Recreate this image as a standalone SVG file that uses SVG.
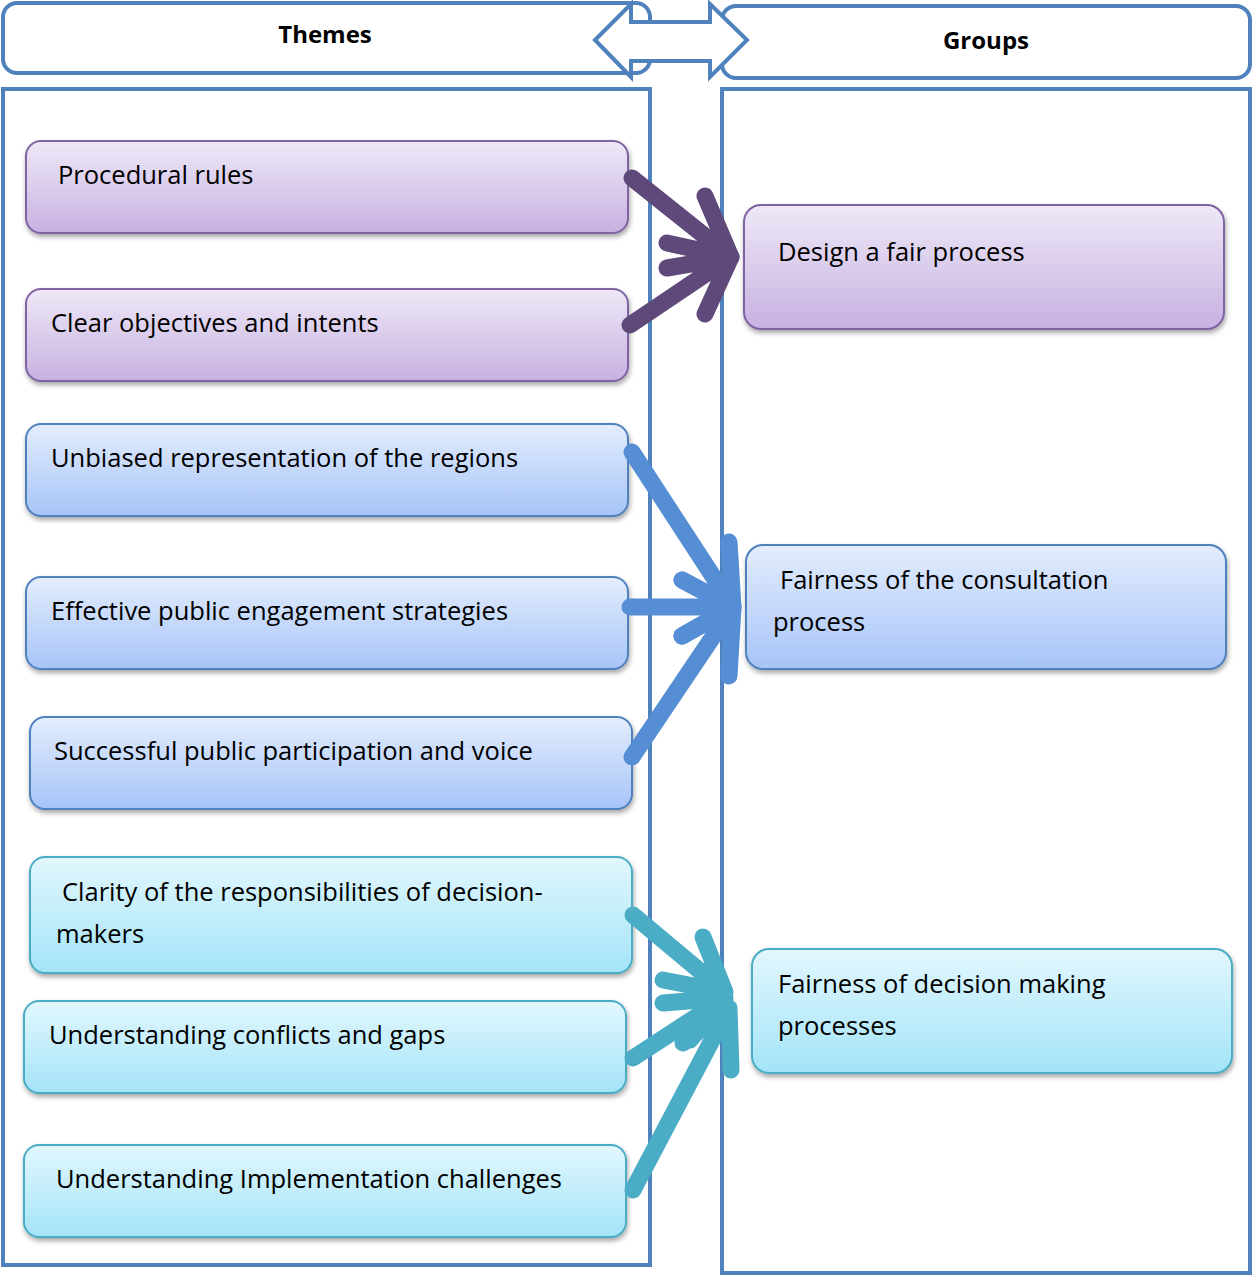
<svg xmlns="http://www.w3.org/2000/svg" width="1253" height="1276" viewBox="0 0 1253 1276">
<defs>
<linearGradient id="gP" x1="0" y1="0" x2="0" y2="1"><stop offset="0" stop-color="#EEE8F7"/><stop offset="1" stop-color="#C7B1E1"/></linearGradient>
<linearGradient id="gB" x1="0" y1="0" x2="0" y2="1"><stop offset="0" stop-color="#E3EDFD"/><stop offset="1" stop-color="#A7C4F8"/></linearGradient>
<linearGradient id="gC" x1="0" y1="0" x2="0" y2="1"><stop offset="0" stop-color="#E2F7FD"/><stop offset="1" stop-color="#A3E4F8"/></linearGradient>
<filter id="sh" x="-5%" y="-10%" width="110%" height="130%"><feDropShadow dx="1" dy="3" stdDeviation="2.5" flood-color="#000" flood-opacity="0.35"/></filter>
</defs>
<style>
.frame{fill:#fff;stroke:#4F81BD;stroke-width:4}
.hdr{font-family:"Open Sans","Liberation Sans",sans-serif;font-weight:bold;font-size:24px;fill:#000;text-anchor:middle}
.t{font-family:"Open Sans","Liberation Sans",sans-serif;font-size:25.5px;fill:#000}
.p{fill:url(#gP);stroke:#8064A2;stroke-width:2;filter:url(#sh)}
.b{fill:url(#gB);stroke:#4F81BD;stroke-width:2;filter:url(#sh)}
.c{fill:url(#gC);stroke:#4BACC6;stroke-width:2;filter:url(#sh)}
.ap{fill:none;stroke:#5F497A;stroke-width:17;stroke-linecap:round;stroke-linejoin:round}
.ab{fill:none;stroke:#558ED5;stroke-width:17;stroke-linecap:round;stroke-linejoin:round}
.ac{fill:none;stroke:#4BACC6;stroke-width:17;stroke-linecap:round;stroke-linejoin:round}
</style>
<g id="themes-header"><rect class="frame" x="3" y="3" width="647" height="70" rx="14"/><text class="hdr" x="325" y="43">Themes</text></g>
<g id="groups-header"><rect class="frame" x="722" y="6" width="528" height="72" rx="14"/><text class="hdr" x="986" y="49">Groups</text></g>
<g id="double-arrow"><path class="frame" d="M595,40 L631,4 L631,22 L710,22 L710,4 L747,40 L710,77 L710,61 L631,61 L631,77 Z"/></g>
<g id="themes-column"><rect class="frame" x="3" y="89" width="647" height="1176"/></g>
<g id="groups-column"><rect class="frame" x="722" y="89" width="528" height="1184"/></g>

<g id="n1"><rect class="p" x="26" y="141" width="602" height="92" rx="15"/><text class="t" x="58" y="184">Procedural rules</text></g>
<g id="n2"><rect class="p" x="26" y="289" width="602" height="92" rx="15"/><text class="t" x="51" y="332">Clear objectives and intents</text></g>
<g id="n3"><rect class="b" x="26" y="424" width="602" height="92" rx="15"/><text class="t" x="51" y="467">Unbiased representation of the regions</text></g>
<g id="n4"><rect class="b" x="26" y="577" width="602" height="92" rx="15"/><text class="t" x="51" y="620">Effective public engagement strategies</text></g>
<g id="n5"><rect class="b" x="30" y="717" width="602" height="92" rx="15"/><text class="t" x="54" y="760">Successful public participation and voice</text></g>
<g id="n6"><rect class="c" x="30" y="857" width="602" height="116" rx="15"/><text class="t" x="62" y="901">Clarity of the responsibilities of decision-</text><text class="t" x="56" y="943">makers</text></g>
<g id="n7"><rect class="c" x="24" y="1001" width="602" height="92" rx="15"/><text class="t" x="49" y="1044">Understanding conflicts and gaps</text></g>
<g id="n8"><rect class="c" x="24" y="1145" width="602" height="92" rx="15"/><text class="t" x="56" y="1188">Understanding Implementation challenges</text></g>

<g id="g1"><rect class="p" x="744" y="205" width="480" height="124" rx="17"/><text class="t" x="778" y="261">Design a fair process</text></g>
<g id="g2"><rect class="b" x="746" y="545" width="480" height="124" rx="17"/><text class="t" x="780" y="589">Fairness of the consultation</text><text class="t" x="773" y="631">process</text></g>
<g id="g3"><rect class="c" x="752" y="949" width="480" height="124" rx="17"/><text class="t" x="778" y="993">Fairness of decision making</text><text class="t" x="778" y="1035">processes</text></g>

<g id="connectors">
<path class="ap" d="M632,178 L731,257 M705,196 L731,257 L667,243"/>
<path class="ap" d="M630,325 L731,257 M667,268 L731,257 L705,314"/>
<path class="ab" d="M632,452 L733,607 M729,542 L733,607 L682,580"/>
<path class="ab" d="M630,607 L733,607 M682,580 L733,607 L682,636"/>
<path class="ab" d="M632,757 L733,607 M682,636 L733,607 L729,676"/>
<path class="ac" d="M633,915 L725,992 M703,937 L725,992 L663,980"/>
<path class="ac" d="M633,1058 L725,998 M663,1003 L725,998 L690,1040"/>
<path class="ac" d="M633,1190 L729,1008 M683,1043 L729,1008 L731,1070"/>
</g>
</svg>
